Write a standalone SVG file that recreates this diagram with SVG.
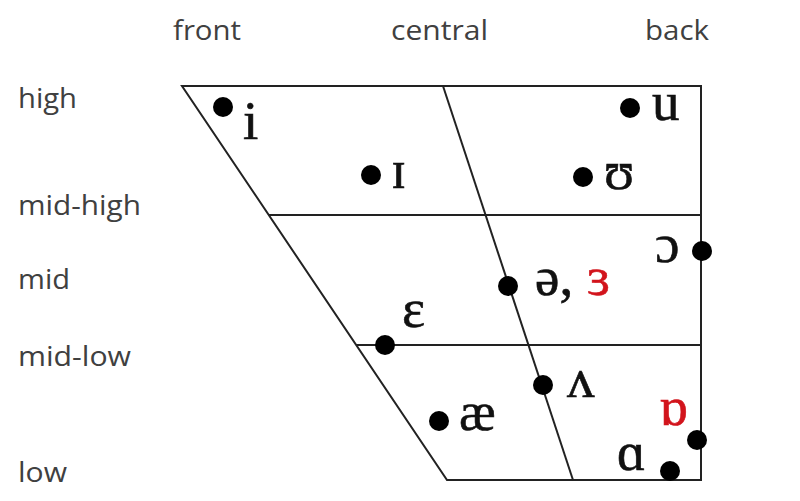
<svg xmlns="http://www.w3.org/2000/svg" width="800" height="501" viewBox="0 0 800 501">
<style>
.lbl{font-family:"Open Sans","Liberation Sans",sans-serif;font-size:27px;fill:#404040}
.top{font-family:"Open Sans","Liberation Sans",sans-serif;font-size:28px;fill:#404040}
.ipa{font-family:"Liberation Serif","DejaVu Serif",serif;font-size:55px;fill:#111;stroke:#111;stroke-width:0.6}
.red{fill:#d2141c;stroke:#d2141c}
.ln{stroke:#222;stroke-width:2;fill:none}
.dot{fill:#000}
</style>
<rect width="800" height="501" fill="#fff"/>
<g id="axis-labels">
<text class="top" x="173" y="40" textLength="68" lengthAdjust="spacingAndGlyphs">front</text>
<text class="top" x="391" y="40" textLength="97" lengthAdjust="spacingAndGlyphs">central</text>
<text class="top" x="645" y="40" textLength="64" lengthAdjust="spacingAndGlyphs">back</text>
<text class="lbl" x="18" y="108" textLength="59" lengthAdjust="spacingAndGlyphs">high</text>
<text class="lbl" x="18" y="215" textLength="123" lengthAdjust="spacingAndGlyphs">mid-high</text>
<text class="lbl" x="18" y="289" textLength="52" lengthAdjust="spacingAndGlyphs">mid</text>
<text class="lbl" x="18" y="366" textLength="113" lengthAdjust="spacingAndGlyphs">mid-low</text>
<text class="lbl" x="18" y="482" textLength="49" lengthAdjust="spacingAndGlyphs">low</text>
</g>
<g id="connectors">
<polygon class="ln" points="182,86 701,86 701,480 447,480"/>
<line class="ln" x1="269" y1="215" x2="701" y2="215"/>
<line class="ln" x1="356" y1="345" x2="701" y2="345"/>
<line class="ln" x1="443" y1="86" x2="573" y2="480"/>
</g>
<g id="v-i"><circle class="dot" cx="223" cy="107" r="10"/><text class="ipa" x="243" y="139">i</text></g>
<g id="v-I"><circle class="dot" cx="371" cy="175" r="10"/><text class="ipa" x="391" y="188">ɪ</text></g>
<g id="v-u"><circle class="dot" cx="630" cy="108" r="10"/><text class="ipa" x="652" y="120">u</text></g>
<g id="v-U"><circle class="dot" cx="583" cy="177" r="10"/><text class="ipa" x="604" y="189">ʊ</text></g>
<g id="v-open-o"><circle class="dot" cx="702" cy="251" r="10"/><text class="ipa" x="655" y="262">ɔ</text></g>
<g id="v-schwa"><circle class="dot" cx="508" cy="286" r="10"/><text class="ipa" x="535" y="295">ə, <tspan class="red">ɜ</tspan></text></g>
<g id="v-e"><circle class="dot" cx="385" cy="345" r="10"/><text class="ipa" x="402" y="327">ɛ</text></g>
<g id="v-wedge"><circle class="dot" cx="543" cy="385" r="10"/><text class="ipa" x="567" y="397">ʌ</text></g>
<g id="v-ae"><circle class="dot" cx="439" cy="421" r="10"/><text class="ipa" x="459" y="430">æ</text></g>
<g id="v-turned-a"><circle class="dot" cx="697" cy="440" r="10"/><text class="ipa red" x="659" y="425">ɒ</text></g>
<g id="v-a"><circle class="dot" cx="670" cy="471" r="10"/><text class="ipa" x="617" y="470">ɑ</text></g>
</svg>
